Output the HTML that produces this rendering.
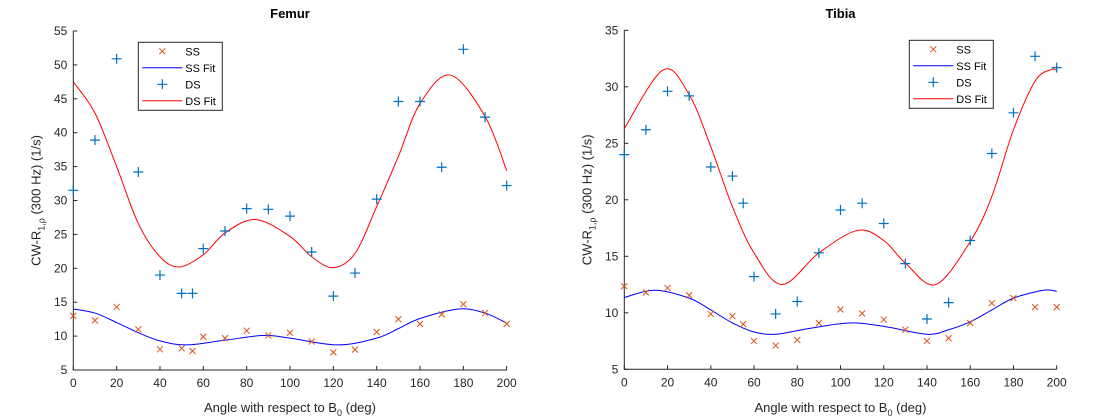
<!DOCTYPE html>
<html><head><meta charset="utf-8"><style>
html,body{margin:0;padding:0;background:#fff;width:1110px;height:420px;overflow:hidden}
svg{font-family:"Liberation Sans",Arial,sans-serif}
</style></head><body>
<svg id="c" width="1110" height="420"></svg>
<script>
const xTicks=[0,20,40,60,80,100,120,140,160,180,200];
const femurYTicks=[5,10,15,20,25,30,35,40,45,50,55];
const tibiaYTicks=[5,10,15,20,25,30,35];
const angles=[0,10,20,30,40,50,55,60,70,80,90,100,110,120,130,140,150,160,170,180,190,200];
const femurSS=[13.0,12.3,14.3,11.0,8.05,8.2,7.8,9.9,9.7,10.8,10.1,10.5,9.2,7.6,8.0,10.6,12.5,11.8,13.2,14.7,13.4,11.8];
const femurDS=[31.5,38.9,50.9,34.2,19.0,16.3,16.3,22.9,25.5,28.8,28.7,27.7,22.4,15.9,19.3,30.2,44.6,44.6,34.9,52.3,42.3,32.2];
const femurSSFitX=[0,10,20,30,40,52,70,88,100,122,140,150,160,178,190,200];
const femurSSFitY=[14.0,13.4,12.0,10.5,9.3,8.7,9.4,10.1,9.7,8.7,9.7,11.1,12.6,14.0,13.4,11.9];
const femurDSFitX=[0,10,20,30,40,49,60,70,84,100,110,120,130,140,150,160,174,190,200];
const femurDSFitY=[47.5,42.9,35.0,26.6,21.7,20.2,22.0,25.2,27.2,24.7,21.7,20.1,22.2,29.1,36.5,44.3,48.5,42.4,34.4];
const tibiaSS=[12.35,11.8,12.2,11.55,9.9,9.7,9.0,7.5,7.1,7.6,9.1,10.3,9.95,9.4,8.5,7.5,7.75,9.1,10.85,11.3,10.5,10.5];
const tibiaDS=[24.0,26.2,29.6,29.2,22.9,22.1,19.7,13.2,9.9,11.0,15.3,19.1,19.7,17.9,14.35,9.45,10.9,16.4,24.1,27.7,32.7,31.7];
const tibiaSSFitX=[0,14,30,40,50,60,70,85,104,120,140,150,160,170,180,194,200];
const tibiaSSFitY=[11.35,12.0,11.3,10.25,9.1,8.3,8.1,8.6,9.1,8.8,8.1,8.5,9.2,10.25,11.3,12.0,11.9];
const tibiaDSFitX=[0,18,30,40,50,60,73,90,108,120,130,144,160,170,180,190,197,200];
const tibiaDSFitY=[26.3,31.5,29.3,24.7,19.4,15.3,12.5,15.3,17.3,16.4,14.4,12.5,16.3,20.3,26.2,30.5,31.5,31.5];

const NS="http://www.w3.org/2000/svg";
const svg=document.getElementById('c');
function mk(tag,attrs,parent){const e=document.createElementNS(NS,tag);for(const k in attrs)e.setAttribute(k,attrs[k]);(parent||svg).appendChild(e);return e;}
function spline(pts){let d=`M${pts[0][0]},${pts[0][1]}`;for(let i=0;i<pts.length-1;i++){const p0=pts[Math.max(0,i-1)],p1=pts[i],p2=pts[i+1],p3=pts[Math.min(pts.length-1,i+2)];const c1x=p1[0]+(p2[0]-p0[0])/6,c1y=p1[1]+(p2[1]-p0[1])/6,c2x=p2[0]-(p3[0]-p1[0])/6,c2y=p2[1]-(p3[1]-p1[1])/6;d+=` C${c1x},${c1y} ${c2x},${c2y} ${p2[0]},${p2[1]}`;}return d;}

function panel(o){
  const g=mk('g',{});
  
  
  const X=v=>o.x0+(v-0)/200*(o.x1-o.x0);
  const Y=v=>o.y1-(v-o.ymin)/(o.ymax-o.ymin)*(o.y1-o.y0);
  const t=mk('text',{x:(o.x0+o.x1)/2,y:18,'text-anchor':'middle','font-size':13,'font-weight':'bold',fill:'#000'},g);t.textContent=o.title;
  
  const ax=mk('path',{d:`M${o.x0},${o.y0}V${o.y1}H${o.x1}`,stroke:'#262626',fill:'none','stroke-width':1},g);
  
  xTicks.forEach(v=>{const x=X(v);mk('line',{x1:x,x2:x,y1:o.y1,y2:o.y1-4,stroke:'#262626'},g);const l=mk('text',{x:x,y:o.y1+17,'text-anchor':'middle','font-size':12,fill:'#262626'},g);l.textContent=v;
    });
  o.yTicks.forEach(v=>{const y=Y(v);mk('line',{x1:o.x0,x2:o.x0+4,y1:y,y2:y,stroke:'#262626'},g);const l=mk('text',{x:o.x0-6,y:y+4,'text-anchor':'end','font-size':12,fill:'#262626'},g);l.textContent=v;
    });
  const xl=mk('text',{x:(o.x0+o.x1)/2,y:412,'text-anchor':'middle','font-size':13,fill:'#262626'},g);
  xl.innerHTML='Angle with respect to B<tspan font-size="9" dy="4">0</tspan><tspan dy="-4"> (deg)</tspan>';
  
  const yl=mk('text',{transform:`translate(${o.x0-33},${(o.y0+o.y1)/2}) rotate(-90)`,'text-anchor':'middle','font-size':13,fill:'#262626'},g);
  yl.innerHTML='CW-R<tspan font-size="9" dy="4">1,ρ</tspan><tspan dy="-4">  (300 Hz) (1/s)</tspan>';
  
  const f1=mk('path',{d:spline(o.ssfx.map((v,i)=>[X(v),Y(o.ssfy[i])])),stroke:'#0000ff',fill:'none','stroke-width':1},g);
  
  const f2=mk('path',{d:spline(o.dsfx.map((v,i)=>[X(v),Y(o.dsfy[i])])),stroke:'#ff0000',fill:'none','stroke-width':1},g);
  
  angles.forEach((a,i)=>{const x=X(a),y=Y(o.ss[i]);const p=mk('path',{d:`M${x-3},${y-3}L${x+3},${y+3}M${x-3},${y+3}L${x+3},${y-3}`,stroke:'#d95319','stroke-width':1},g);
    });
  angles.forEach((a,i)=>{const x=X(a),y=Y(o.ds[i]);const p=mk('path',{d:`M${x-5},${y}H${x+5}M${x},${y-5}V${y+5}`,stroke:'#0072bd','stroke-width':1.2},g);
    });
  const lg=mk('g',{},g);
  
  const lx=o.lx,ly=o.ly;
  mk('rect',{x:lx,y:ly,width:84,height:68,fill:'#fff',stroke:'#262626','stroke-width':1},lg);
  const names=['SS','SS Fit','DS','DS Fit'];
  names.forEach((n,i)=>{const yy=ly+9+i*16.5;
    if(i==0)mk('path',{d:`M${lx+21},${yy-3}l6,6M${lx+21},${yy+3}l6,-6`,stroke:'#d95319'},lg);
    if(i==1)mk('line',{x1:lx+4,x2:lx+44,y1:yy,y2:yy,stroke:'#0000ff'},lg);
    if(i==2)mk('path',{d:`M${lx+19},${yy}h10M${lx+24},${yy-5}v10`,stroke:'#0072bd','stroke-width':1.2},lg);
    if(i==3)mk('line',{x1:lx+4,x2:lx+44,y1:yy,y2:yy,stroke:'#ff0000'},lg);
    const tt=mk('text',{x:lx+47,y:yy+4,'font-size':11,fill:'#000'},lg);tt.textContent=n;
    });
}
panel({name:'femur',title:'Femur',x0:73.3,x1:506.7,y0:31,y1:370,ymin:5,ymax:55,yTicks:femurYTicks,ss:femurSS,ds:femurDS,ssfx:femurSSFitX,ssfy:femurSSFitY,dsfx:femurDSFitX,dsfy:femurDSFitY,lx:138.3,ly:42.3});
panel({name:'tibia',title:'Tibia',x0:624.3,x1:1056.7,y0:30.3,y1:369.3,ymin:5,ymax:35,yTicks:tibiaYTicks,ss:tibiaSS,ds:tibiaDS,ssfx:tibiaSSFitX,ssfy:tibiaSSFitY,dsfx:tibiaDSFitX,dsfy:tibiaDSFitY,lx:909.3,ly:40.3});
</script>
</body></html>
